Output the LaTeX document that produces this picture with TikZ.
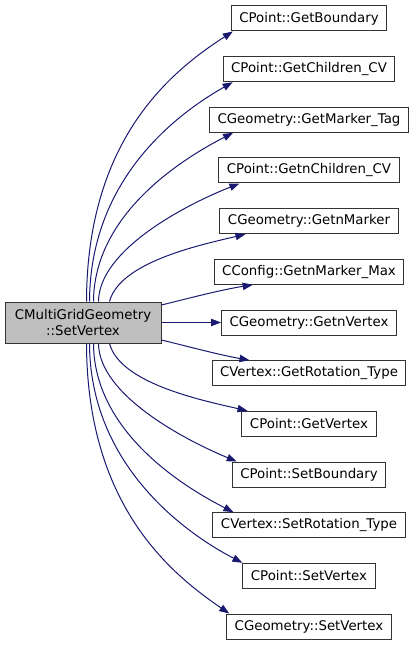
\documentclass[tikz,border=0pt]{standalone}
\usepackage{fontspec}
\setmainfont{DejaVu Sans}
\usetikzlibrary{arrows.meta,calc}
\definecolor{edgeblue}{HTML}{191970}
\definecolor{boxline}{HTML}{333333}
\definecolor{mainfill}{HTML}{BFBFBF}
\begin{document}
\begin{tikzpicture}[x=0.75pt,y=-0.75pt,
  fn/.style={draw=boxline, line width=0.75pt, fill=white, minimum height=18.75pt,
    inner xsep=6pt, inner ysep=0pt, font=\fontsize{10}{12}\selectfont},
  mainnode/.style={fn, fill=mainfill, minimum width=117pt, minimum height=30.75pt,
    align=center},
  call/.style={draw=edgeblue, line width=0.75pt,
    -{Triangle[length=7.5pt,width=5.5pt,fill=edgeblue]}}]
\useasboundingbox (0,0) rectangle (415,645);

\node[mainnode] (m) at (83,322.5) {CMultiGridGeometry\\::SetVertex};

\node[fn] (t0)  at (309,18.5)  {CPoint::GetBoundary};
\node[fn] (t1)  at (309,69.2)  {CPoint::GetChildren\_CV};
\node[fn] (t2)  at (309,119.8) {CGeometry::GetMarker\_Tag};
\node[fn] (t3)  at (309,170.5) {CPoint::GetnChildren\_CV};
\node[fn] (t4)  at (309,221.2) {CGeometry::GetnMarker};
\node[fn] (t5)  at (309,271.8) {CConfig::GetnMarker\_Max};
\node[fn] (t6)  at (309,322.5) {CGeometry::GetnVertex};
\node[fn] (t7)  at (309,373.2) {CVertex::GetRotation\_Type};
\node[fn] (t8)  at (309,423.8) {CPoint::GetVertex};
\node[fn] (t9)  at (309,474.5) {CPoint::SetBoundary};
\node[fn] (t10) at (309,525.2) {CVertex::SetRotation\_Type};
\node[fn] (t11) at (309,575.8) {CPoint::SetVertex};
\node[fn] (t12) at (309,626.5) {CGeometry::SetVertex};

\draw[call] ($(m.north west)+(82,0)$) .. controls (87,140) and (170,72) .. ($(t0.south west)+(2,0)$);
\draw[call] ($(m.north west)+(85,0)$) .. controls (90,180) and (175,115) .. ($(t1.south west)+(10,0)$);
\draw[call] ($(m.north west)+(89,0)$) .. controls (94,215) and (180,160) .. ($(t2.south west)+(24,0)$);
\draw[call] ($(m.north west)+(94,0)$) .. controls (99,250) and (185,205) .. ($(t3.south west)+(21,0)$);
\draw[call] ($(m.north west)+(105,0)$) .. controls (120,262) and (200,245) .. ($(t4.south west)+(26,0)$);
\draw[call] ($(m.east)+(0,-17.5)$) .. controls (190,298) and (220,290) .. ($(t5.south west)+(39,0)$);
\draw[call] (m.east) -- (t6.west);
\draw[call] ($(m.east)+(0,17.5)$) .. controls (190,347) and (220,355) .. ($(t7.north west)+(38,0)$);
\draw[call] ($(m.south west)+(105,0)$) .. controls (120,383) and (200,400) .. ($(t8.north west)+(6,0)$);
\draw[call] ($(m.south west)+(94,0)$) .. controls (99,395) and (185,440) .. ($(t9.north west)+(5,0)$);
\draw[call] ($(m.south west)+(89,0)$) .. controls (94,430) and (180,485) .. ($(t10.north west)+(21,0)$);
\draw[call] ($(m.south west)+(85,0)$) .. controls (90,465) and (185,533) .. ($(t11.north west)+(0,0)$);
\draw[call] ($(m.south west)+(82,0)$) .. controls (87,505) and (170,573) .. ($(t12.north west)+(3,0)$);
\end{tikzpicture}
\end{document}
